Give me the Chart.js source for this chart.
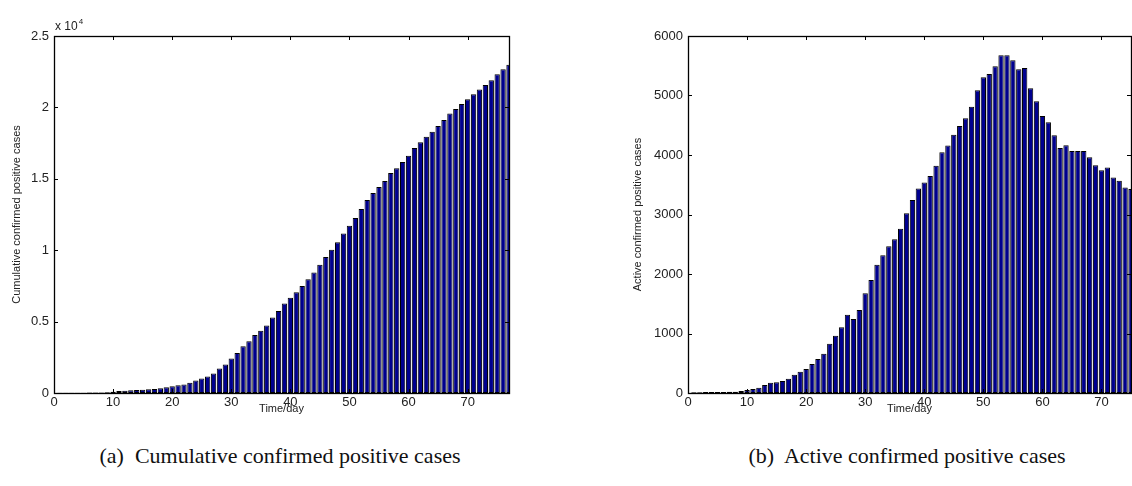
<!DOCTYPE html>
<html>
<head>
<meta charset="utf-8">
<title>Confirmed positive cases</title>
<script src="https://cdn.jsdelivr.net/npm/chart.js@4"></script>
<style>
    html, body { margin: 0; padding: 0; background: #fff; overflow: hidden; }
    body { width: 1132px; height: 486px; position: relative; }
    .panel { position: absolute; top: 0; height: 420px; }
    #leftPanel { left: 0; width: 520px; }
    #rightPanel { left: 620px; width: 512px; }
    .caption {
        position: absolute;
        top: 443px;
        font-family: "Liberation Serif", "Times New Roman", serif;
        font-size: 22px;
        color: #111;
        white-space: nowrap;
        transform: translateX(-50%);
    }
</style>
</head>
<body>
<div class="panel" id="leftPanel"><canvas id="cumChart"></canvas></div>
<div class="panel" id="rightPanel"><canvas id="actChart"></canvas></div>
<div class="caption" style="left:280px">(a)&nbsp; Cumulative confirmed positive cases</div>
<div class="caption" style="left:907px">(b)&nbsp; Active confirmed positive cases</div>

<script>
// days and values
const cumDays = [1, 2, 3, 4, 5, 6, 7, 8, 9, 10,
    11, 12, 13, 14, 15, 16, 17, 18, 19, 20,
    21, 22, 23, 24, 25, 26, 27, 28, 29, 30,
    31, 32, 33, 34, 35, 36, 37, 38, 39, 40,
    41, 42, 43, 44, 45, 46, 47, 48, 49, 50,
    51, 52, 53, 54, 55, 56, 57, 58, 59, 60,
    61, 62, 63, 64, 65, 66, 67, 68, 69, 70,
    71, 72, 73, 74, 75, 76, 77];
const cumValues = [12, 14, 20, 22, 25, 28, 32, 40, 55, 85,
    139, 162, 186, 209, 232, 255, 278, 325, 394, 464,
    534, 603, 719, 882, 1021, 1160, 1369, 1717, 1995, 2413,
    2807, 3271, 3619, 4060, 4362, 4733, 5287, 5750, 6259, 6677,
    7050, 7492, 7957, 8446, 8981, 9516, 10027, 10563, 11168, 11720,
    12250, 12892, 13520, 14009, 14428, 14847, 15405, 15731, 16172, 16612,
    17149, 17568, 17939, 18288, 18706, 19125, 19567, 19890, 20230, 20570,
    20920, 21245, 21570, 21905, 22315, 22664, 22985];

const actDays = [1, 2, 3, 4, 5, 6, 7, 8, 9, 10,
    11, 12, 13, 14, 15, 16, 17, 18, 19, 20,
    21, 22, 23, 24, 25, 26, 27, 28, 29, 30,
    31, 32, 33, 34, 35, 36, 37, 38, 39, 40,
    41, 42, 43, 44, 45, 46, 47, 48, 49, 50,
    51, 52, 53, 54, 55, 56, 57, 58, 59, 60,
    61, 62, 63, 64, 65, 66, 67, 68, 69, 70,
    71, 72, 73, 74, 75];
const actValues = [11, 11, 17, 17, 17, 17, 22, 22, 34, 50,
    67, 90, 134, 174, 179, 202, 241, 308, 358, 403,
    487, 571, 661, 829, 963, 1104, 1317, 1244, 1395, 1676,
    1900, 2157, 2314, 2466, 2584, 2762, 3020, 3244, 3435, 3536,
    3648, 3821, 4046, 4158, 4342, 4488, 4617, 4813, 5088, 5306,
    5362, 5491, 5676, 5676, 5592, 5441, 5463, 5122, 4903, 4656,
    4550, 4331, 4118, 4163, 4068, 4068, 4068, 3962, 3827, 3743,
    3788, 3620, 3569, 3452, 3429];

const xTicks = [0, 10, 20, 30, 40, 50, 60, 70];
const cumYTicks = [0, 5000, 10000, 15000, 20000, 25000];
const actYTicks = [0, 1000, 2000, 3000, 4000, 5000, 6000];

const FONT = '"Liberation Sans", Arial, Helvetica, sans-serif';
const BAR_FILL = '#00008F';

// MATLAB style box with inward ticks on all four sides
const axesFrame = {
    id: 'axesFrame',
    afterDraw(chart, args, opts) {
        const { ctx, chartArea: a, scales: { x, y } } = chart;
        ctx.save();
        ctx.strokeStyle = '#000';
        ctx.lineWidth = 1;
        ctx.beginPath();
        x.ticks.forEach(t => {
            const px = Math.round(x.getPixelForValue(t.value)) + 0.5;
            ctx.moveTo(px, a.bottom); ctx.lineTo(px, a.bottom - 4);
            ctx.moveTo(px, a.top); ctx.lineTo(px, a.top + 4);
        });
        y.ticks.forEach(t => {
            const py = Math.round(y.getPixelForValue(t.value)) + 0.5;
            ctx.moveTo(a.left, py); ctx.lineTo(a.left + 4, py);
            ctx.moveTo(a.right, py); ctx.lineTo(a.right - 4, py);
        });
        ctx.stroke();
        ctx.lineWidth = 1.3;
        ctx.strokeRect(Math.round(a.left) + 0.5, Math.round(a.top) + 0.5,
            Math.round(a.right - a.left), Math.round(a.bottom - a.top));
        if (opts.exponent) {
            ctx.fillStyle = '#222';
            ctx.font = '12px ' + FONT;
            ctx.textBaseline = 'alphabetic';
            ctx.textAlign = 'left';
            ctx.fillText('x 10', a.left + 1, a.top - 6);
            const w = ctx.measureText('x 10').width;
            ctx.font = '8px ' + FONT;
            ctx.fillText(opts.exponent, a.left + 2 + w, a.top - 12);
        }
        ctx.restore();
    }
};

function makeBarChart(id, days, values, cfg) {
    return new Chart(document.getElementById(id), {
        type: 'bar',
        data: {
            datasets: [{
                data: days.map((d, i) => ({ x: d, y: values[i] })),
                backgroundColor: BAR_FILL,
                borderColor: '#000',
                borderWidth: 1,
                borderSkipped: false,
                barPercentage: 0.9,
                categoryPercentage: 1.0
            }]
        },
        options: {
            responsive: true,
            maintainAspectRatio: false,
            animation: false,
            devicePixelRatio: 1,
            layout: { padding: { left: 0, right: cfg.padRight, top: 36, bottom: 4 } },
            plugins: {
                legend: { display: false },
                tooltip: { enabled: false },
                axesFrame: { exponent: cfg.exponent }
            },
            scales: {
                x: {
                    type: 'linear',
                    min: 0,
                    max: cfg.xMax,
                    offset: false,
                    grid: { display: false, drawTicks: false, offset: false },
                    border: { display: false },
                    ticks: {
                        autoSkip: false, maxRotation: 0, padding: 2,
                        color: '#222', font: { family: FONT, size: 13 }
                    },
                    afterBuildTicks: s => { s.ticks = xTicks.map(v => ({ value: v })); },
                    afterFit: s => { s.height = 23; },
                    title: {
                        display: true, text: 'Time/day', color: '#222',
                        font: { family: FONT, size: 11 }, padding: { top: 0, bottom: 0 }
                    }
                },
                y: {
                    min: 0,
                    max: cfg.yMax,
                    grid: { display: false, drawTicks: false },
                    border: { display: false },
                    ticks: {
                        padding: 5, color: '#222', font: { family: FONT, size: 13 },
                        callback: cfg.yLabel
                    },
                    afterBuildTicks: s => { s.ticks = cfg.yTicks.map(v => ({ value: v })); },
                    afterFit: s => { s.width = cfg.yWidth; },
                    title: {
                        display: true, text: cfg.yTitle, color: '#222',
                        font: { family: FONT, size: 11 }, padding: { top: cfg.titlePad, bottom: 0 }
                    }
                }
            }
        },
        plugins: [axesFrame]
    });
}

makeBarChart('cumChart', cumDays, cumValues, {
    xMax: 77, yMax: 25000, yTicks: cumYTicks, yWidth: 54, padRight: 11, titlePad: 10,
    yTitle: 'Cumulative confirmed positive cases', exponent: '4',
    yLabel: v => String(v / 10000)
});

makeBarChart('actChart', actDays, actValues, {
    xMax: 75, yMax: 6000, yTicks: actYTicks, yWidth: 68, padRight: 1, titlePad: 11,
    yTitle: 'Active confirmed positive cases', exponent: null,
    yLabel: v => String(v)
});
</script>
</body>
</html>
